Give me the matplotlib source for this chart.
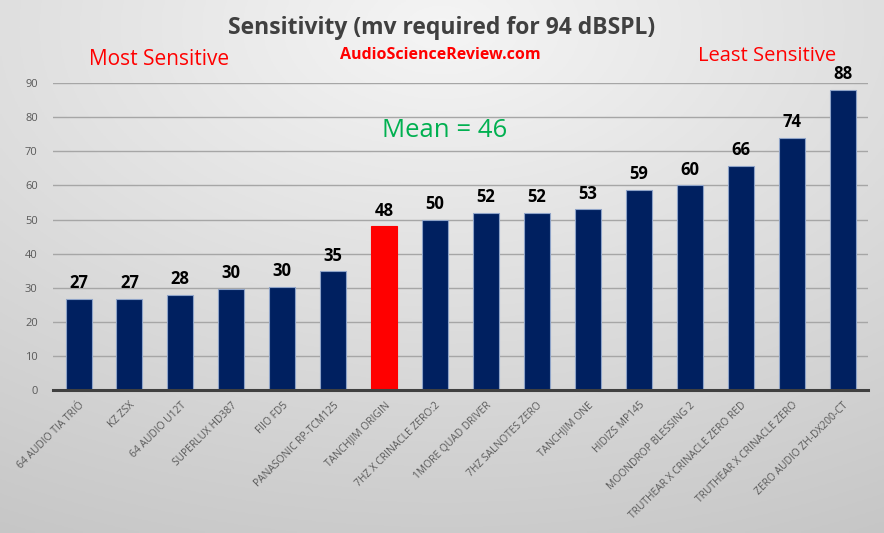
import numpy as np
import matplotlib
matplotlib.use("Agg")
import matplotlib.pyplot as plt

categories = ["64 AUDIO TIA TRIÓ", "KZ ZSX", "64 AUDIO U12T", "SUPERLUX HD387", "FIIO FD5",
              "PANASONIC RP-TCM125", "TANCHJIM ORIGIN", "7HZ X CRINACLE ZERO:2", "1MORE QUAD DRIVER",
              "7HZ SALNOTES ZERO", "TANCHJIM ONE", "HIDIZS MP145", "MOONDROP BLESSING 2",
              "TRUTHEAR X CRINACLE ZERO RED", "TRUTHEAR X CRINACLE ZERO", "ZERO AUDIO ZH-DX200-CT"]
values = [26.8, 26.8, 28.0, 29.7, 30.3, 34.8, 48.0, 50.0, 52.0, 52.0, 53.0, 58.7, 60.0, 65.8, 74.0, 88.0]
labels = ["27", "27", "28", "30", "30", "35", "48", "50", "52", "52", "53", "59", "60", "66", "74", "88"]
highlight = "TANCHJIM ORIGIN"
yticks = [0, 10, 20, 30, 40, 50, 60, 70, 80, 90]

plt.rcParams['font.family'] = ['Open Sans', 'DejaVu Sans']

fig = plt.figure(figsize=(8.84, 5.33), dpi=100)

# background gradient
bg = fig.add_axes([0, 0, 1, 1], zorder=-10)
yy, xx = np.mgrid[0:1:200j, 0:1:300j]
r = np.sqrt(((xx - 0.5) * 1.0) ** 2 + ((yy - 0.05) * 1.0) ** 2)
g = 0.96 - 0.17 * r
g = np.clip(g, 0.76, 0.96)
bg.imshow(np.dstack([g, g, g]), extent=[0, 1, 0, 1], aspect='auto', origin='upper')
bg.set_axis_off()

ax = fig.add_axes([0.06, 0.268, 0.922, 0.576])
ax.patch.set_alpha(0)
x = np.arange(len(categories))
colors = ["#ff0000" if c == highlight else "#002060" for c in categories]
edges = ["#ff0000" if c == highlight else "#8ea3c8" for c in categories]
bars = ax.bar(x, values, width=0.51, color=colors, edgecolor=edges, linewidth=0.8, zorder=3)
for xi, v, lab in zip(x, values, labels):
    ax.text(xi, v + 2.0, lab, ha='center', va='bottom', fontsize=12, fontweight='bold',
            color='black', clip_on=False, zorder=4)

ax.set_xlim(-0.5, len(categories) - 0.5)
ax.set_ylim(0, 90)
ax.set_yticks(yticks)
ax.set_yticklabels([str(t) for t in yticks], fontsize=8, color='#595959')
ax.yaxis.grid(True, color='#a6a6a6', linewidth=1.0, zorder=0)
ax.set_axisbelow(True)
ax.tick_params(axis='y', length=0, pad=11)
ax.tick_params(axis='x', length=0, pad=7)
ax.set_xticks(x)
ax.set_xticklabels(categories, rotation=45, ha='right', rotation_mode='anchor',
                   fontsize=7.4, color='#595959')
for s in ['top', 'right', 'left']:
    ax.spines[s].set_visible(False)
ax.spines['bottom'].set_color('#404040')
ax.spines['bottom'].set_linewidth(2.2)
ax.spines['bottom'].set_zorder(5)

fig.text(0.499, 0.947, "Sensitivity (mv required for 94 dBSPL)", ha='center', va='center',
         fontsize=16.5, fontweight='bold', color='#404040')
fig.text(0.498, 0.897, "AudioScienceReview.com", ha='center', va='center',
         fontsize=11.5, fontweight='bold', color='#ff0000')
fig.text(0.18, 0.889, "Most Sensitive", ha='center', va='center', fontsize=15, color='#ff0000')
fig.text(0.868, 0.895, "Least Sensitive", ha='center', va='center', fontsize=14.5, color='#ff0000')
fig.text(0.503, 0.756, "Mean = 46", ha='center', va='center', fontsize=18.5, color='#00b050')

fig.savefig("out.png", dpi=100)
